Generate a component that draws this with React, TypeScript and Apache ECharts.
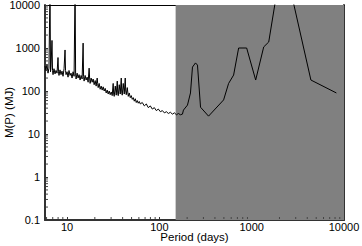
import React, { useEffect, useRef } from "react";
import * as echarts from "echarts";

const periods: number[] = [
  5.77, 5.91, 6.06, 6.22, 6.37, 6.54, 6.62, 6.7, 6.87, 6.96,
  7.05, 7.22, 7.41, 7.59, 7.79, 7.98, 8.08, 8.18, 8.39, 8.6,
  8.82, 9.05, 9.28, 9.51, 9.63, 9.75, 10.0, 10.25, 10.5, 10.78,
  11.05, 11.33, 11.62, 11.92, 12.22, 12.38, 12.53, 12.85, 13.17, 13.5,
  13.85, 14.2, 14.56, 14.93, 15.1, 15.3, 15.7, 16.09, 16.5, 16.92,
  17.35, 17.56, 17.78, 18.23, 18.7, 19.17, 19.66, 20.16, 20.67, 21.2,
  21.46, 21.73, 22.28, 22.85, 23.43, 24.02, 24.63, 25.26, 25.9, 26.55,
  27.22, 27.91, 28.62, 29.34, 30.1, 30.85, 31.6, 32.0, 32.43, 33.3,
  34.1, 35.0, 35.4, 35.85, 36.76, 37.69, 38.65, 39.1, 39.62, 40.6,
  41.66, 42.7, 43.2, 43.79, 44.9, 46.04, 47.2, 48.4, 49.6, 50.9,
  52.2, 53.5, 54.9, 56.2, 57.6, 59.1, 60.6, 62.15, 65.3, 68.7,
  72.2, 75.9, 79.8, 83.9, 88.2, 92.7, 97.5, 102.5, 107.8, 113.3,
  119.1, 125.2, 131.7, 138.4, 145.6, 153, 160.9, 169.2, 177.8,
  182.4, 201.6, 217.3, 228.4, 246.2, 258.8, 279.1, 340.9, 496.3, 562.3,
  637.2, 722.3, 882.3, 1105, 1350, 1530, 2173, 4380, 8270,
];

const masses: number[] = [
  380, 300, 420, 260, 340, 30000, 280, 350, 1500, 300,
  240, 330, 250, 300, 260, 600, 280, 230, 310, 240,
  290, 220, 330, 900, 300, 240, 280, 210, 300, 230,
  260, 200, 280, 220, 30000, 250, 190, 260, 200, 240,
  180, 230, 190, 1300, 220, 170, 230, 180, 210, 160,
  340, 200, 150, 200, 160, 190, 140, 175, 130, 200,
  150, 120, 150, 110, 130, 105, 125, 100, 115, 90,
  105, 85, 100, 82, 95, 78, 150, 85, 75, 130,
  80, 170, 90, 78, 140, 85, 200, 95, 80, 150,
  85, 200, 100, 82, 120, 75, 90, 70, 78, 64,
  70, 58, 66, 54, 60, 52, 57, 50, 54, 45,
  50, 41, 45, 38, 41, 35, 38, 33, 35, 31,
  33, 30, 32, 29, 31, 28, 30, 28, 29,
  36, 47, 90, 360, 450, 400, 42, 26, 62, 150,
  235, 1000, 1000, 180, 1060, 1380, 140000, 180, 90,
];

const shadeRange: number[] = [150, 10000];
const xRange: number[] = [5.77, 10000];
const yRange: number[] = [0.1, 10000];
const xMinorTicks: number[] = [
  6, 7, 8, 9, 20, 30, 40, 50, 60, 70, 80, 90,
  200, 300, 400, 500, 600, 700, 800, 900,
  2000, 3000, 4000, 5000, 6000, 7000, 8000, 9000,
];
const yMinorTicks: number[] = [
  0.2, 0.3, 0.4, 0.5, 0.6, 0.7, 0.8, 0.9,
  2, 3, 4, 5, 6, 7, 8, 9,
  20, 30, 40, 50, 60, 70, 80, 90,
  200, 300, 400, 500, 600, 700, 800, 900,
  2000, 3000, 4000, 5000, 6000, 7000, 8000, 9000,
];

const FONT = "'Liberation Sans', Arial, Helvetica, sans-serif";

const decadeLabel = (v: number) => {
  const l = Math.log10(v);
  if (Math.abs(l - Math.round(l)) > 1e-6) return "";
  return String(Number(v.toPrecision(6)));
};

export default function App() {
  const ref = useRef<HTMLDivElement>(null);
  useEffect(() => {
    if (!ref.current) return;
    const chart = echarts.init(ref.current, null, { renderer: "svg" });
    const lineData = periods.map((p, i) => [p, masses[i]]);
    const option: any = {
      animation: false,
      backgroundColor: "#fff",
      grid: {
        left: 45,
        right: 18,
        top: 5,
        bottom: 26,
        containLabel: false,
        outerBoundsMode: "none",
      },
      xAxis: [
        {
          type: "log",
          logBase: 10,
          min: xRange[0],
          max: xRange[1],
          splitNumber: 3,
          position: "bottom",
          axisLine: { show: true, lineStyle: { color: "#333", width: 2 } },
          axisTick: { show: true, inside: true, length: 3, lineStyle: { color: "#333" } },
          axisLabel: {
            formatter: decadeLabel,
            fontSize: 11,
            fontFamily: FONT,
            color: "#000",
            margin: 1,
          },
          splitLine: { show: false },
          name: "Period (days)",
          nameLocation: "middle",
          nameGap: 11,
          nameMoveOverlap: false,
          nameTextStyle: { fontSize: 11.5, fontFamily: FONT, color: "#000", verticalAlign: "top" },
        },
        {
          type: "log",
          logBase: 10,
          min: xRange[0],
          max: xRange[1],
          position: "top",
          axisLine: { show: true, lineStyle: { color: "#000", width: 1 } },
          axisTick: { show: false },
          axisLabel: { show: false },
          splitLine: { show: false },
        },
      ],
      yAxis: [
        {
          type: "log",
          logBase: 10,
          min: yRange[0],
          max: yRange[1],
          splitNumber: 5,
          position: "left",
          axisLine: { show: true, lineStyle: { color: "#333", width: 2 } },
          axisTick: { show: true, inside: true, length: 3, lineStyle: { color: "#333" } },
          axisLabel: {
            formatter: decadeLabel,
            fontSize: 11,
            fontFamily: FONT,
            color: "#000",
            margin: 5,
          },
          splitLine: { show: false },
          name: "M(P) (MJ)",
          nameLocation: "middle",
          nameGap: 30,
          nameMoveOverlap: false,
          nameTextStyle: { fontSize: 11.5, fontFamily: FONT, color: "#000" },
        },
        {
          type: "log",
          logBase: 10,
          min: yRange[0],
          max: yRange[1],
          position: "right",
          axisLine: { show: true, lineStyle: { color: "#333", width: 2 } },
          axisTick: { show: false },
          axisLabel: { show: false },
          splitLine: { show: false },
        },
      ],
      series: [
        {
          type: "line",
          data: [],
          z: 1,
          silent: true,
          markArea: {
            silent: true,
            itemStyle: { color: "#808080", opacity: 1 },
            data: [[{ xAxis: shadeRange[0] }, { xAxis: shadeRange[1] }]],
          },
        },
        {
          type: "line",
          data: lineData,
          z: 5,
          showSymbol: false,
          symbol: "none",
          clip: true,
          lineStyle: { color: "#000", width: 1 },
        },
        {
          type: "custom",
          z: 6,
          silent: true,
          data: xMinorTicks.map((v) => [v, yRange[0]]),
          renderItem: (_p: any, api: any) => {
            const pt = api.coord([api.value(0), api.value(1)]);
            return {
              type: "line",
              shape: { x1: pt[0], y1: pt[1] - 1, x2: pt[0], y2: pt[1] - 3 },
              style: { stroke: "#444", lineWidth: 1 },
            };
          },
        },
        {
          type: "custom",
          z: 6,
          silent: true,
          data: yMinorTicks.map((v) => [xRange[0], v]),
          renderItem: (_p: any, api: any) => {
            const pt = api.coord([api.value(0), api.value(1)]);
            return {
              type: "line",
              shape: { x1: pt[0] + 1, y1: pt[1], x2: pt[0] + 3, y2: pt[1] },
              style: { stroke: "#444", lineWidth: 1 },
            };
          },
        },
      ],
    };
    chart.setOption(option);
    return () => chart.dispose();
  }, []);
  return (
    <div
      ref={ref}
      style={{ position: "fixed", left: 0, top: 0, width: 362, height: 246 }}
    />
  );
}
